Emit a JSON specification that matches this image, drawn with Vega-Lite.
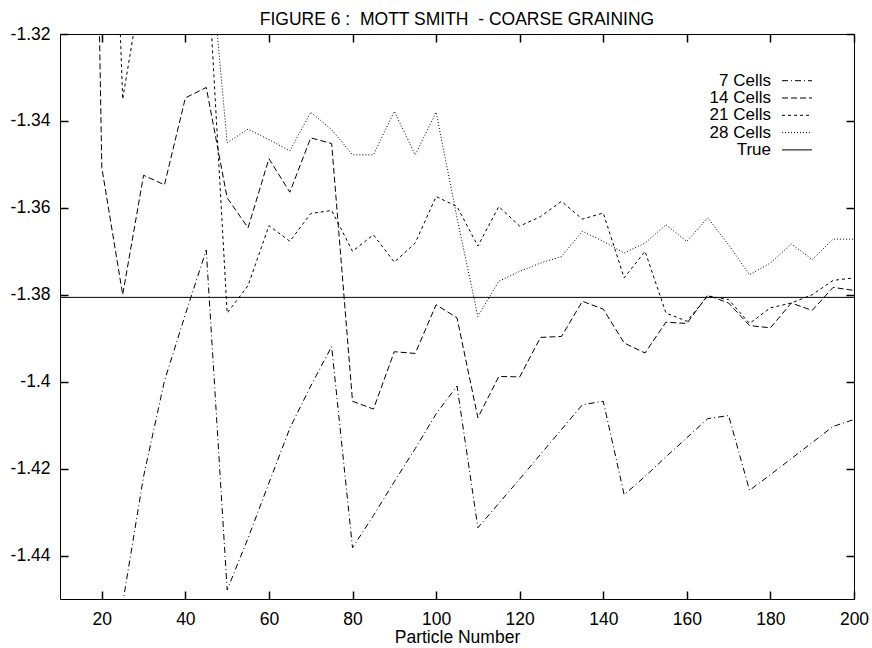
{
  "$schema": "https://vega.github.io/schema/vega-lite/v6.json",
  "width": 794,
  "height": 565,
  "autosize": {"type": "none"},
  "padding": {"left": 60, "top": 34, "right": 18, "bottom": 49},
  "background": "white",
  "config": {
    "font": "Liberation Sans",
    "view": {"stroke": "black", "strokeWidth": 1},
    "axis": {"grid": false, "labelFont": "Liberation Sans", "titleFont": "Liberation Sans", "labelFontSize": 17.5, "titleFontSize": 17.5, "titleFontWeight": "normal", "labelColor": "black", "titleColor": "black"}
  },
  "title": {"text": "FIGURE 6 :\u00a0 MOTT SMITH\u00a0 - COARSE GRAINING", "fontSize": 17.5, "fontWeight": "normal", "font": "Liberation Sans", "color": "black", "anchor": "middle", "frame": "group", "offset": -3.5},
  "data": {"values": [
    {"s":"7 Cells","x":20,"y":-1.52},{"s":"7 Cells","x":25,"y":-1.451},{"s":"7 Cells","x":30,"y":-1.4218},{"s":"7 Cells","x":35,"y":-1.3998},{"s":"7 Cells","x":40,"y":-1.3845},{"s":"7 Cells","x":45,"y":-1.3697},{"s":"7 Cells","x":50,"y":-1.4479},{"s":"7 Cells","x":55,"y":-1.436},{"s":"7 Cells","x":60,"y":-1.4233},{"s":"7 Cells","x":65,"y":-1.4107},{"s":"7 Cells","x":70,"y":-1.401},{"s":"7 Cells","x":75,"y":-1.3919},{"s":"7 Cells","x":80,"y":-1.4382},{"s":"7 Cells","x":85,"y":-1.4308},{"s":"7 Cells","x":90,"y":-1.423},{"s":"7 Cells","x":95,"y":-1.4154},{"s":"7 Cells","x":100,"y":-1.4074},{"s":"7 Cells","x":105,"y":-1.401},{"s":"7 Cells","x":110,"y":-1.4336},{"s":"7 Cells","x":115,"y":-1.428},{"s":"7 Cells","x":120,"y":-1.4224},{"s":"7 Cells","x":125,"y":-1.4167},{"s":"7 Cells","x":130,"y":-1.411},{"s":"7 Cells","x":135,"y":-1.4053},{"s":"7 Cells","x":140,"y":-1.4045},{"s":"7 Cells","x":145,"y":-1.426},{"s":"7 Cells","x":150,"y":-1.4218},{"s":"7 Cells","x":155,"y":-1.4173},{"s":"7 Cells","x":160,"y":-1.4129},{"s":"7 Cells","x":165,"y":-1.4085},{"s":"7 Cells","x":170,"y":-1.4078},{"s":"7 Cells","x":175,"y":-1.425},{"s":"7 Cells","x":180,"y":-1.4214},{"s":"7 Cells","x":185,"y":-1.4177},{"s":"7 Cells","x":190,"y":-1.414},{"s":"7 Cells","x":195,"y":-1.4103},{"s":"7 Cells","x":200,"y":-1.4087},
    {"s":"14 Cells","x":15,"y":-1.07},{"s":"14 Cells","x":20,"y":-1.3507},{"s":"14 Cells","x":25,"y":-1.38},{"s":"14 Cells","x":30,"y":-1.3525},{"s":"14 Cells","x":35,"y":-1.3547},{"s":"14 Cells","x":40,"y":-1.3347},{"s":"14 Cells","x":45,"y":-1.3323},{"s":"14 Cells","x":50,"y":-1.3577},{"s":"14 Cells","x":55,"y":-1.3646},{"s":"14 Cells","x":60,"y":-1.3487},{"s":"14 Cells","x":65,"y":-1.3564},{"s":"14 Cells","x":70,"y":-1.3439},{"s":"14 Cells","x":75,"y":-1.3452},{"s":"14 Cells","x":80,"y":-1.4045},{"s":"14 Cells","x":85,"y":-1.4063},{"s":"14 Cells","x":90,"y":-1.3931},{"s":"14 Cells","x":95,"y":-1.3935},{"s":"14 Cells","x":100,"y":-1.3823},{"s":"14 Cells","x":105,"y":-1.3853},{"s":"14 Cells","x":110,"y":-1.4083},{"s":"14 Cells","x":115,"y":-1.3988},{"s":"14 Cells","x":120,"y":-1.3989},{"s":"14 Cells","x":125,"y":-1.3898},{"s":"14 Cells","x":130,"y":-1.3896},{"s":"14 Cells","x":135,"y":-1.3815},{"s":"14 Cells","x":140,"y":-1.3833},{"s":"14 Cells","x":145,"y":-1.3911},{"s":"14 Cells","x":150,"y":-1.3934},{"s":"14 Cells","x":155,"y":-1.3863},{"s":"14 Cells","x":160,"y":-1.3866},{"s":"14 Cells","x":165,"y":-1.3801},{"s":"14 Cells","x":170,"y":-1.3819},{"s":"14 Cells","x":175,"y":-1.3871},{"s":"14 Cells","x":180,"y":-1.3876},{"s":"14 Cells","x":185,"y":-1.3819},{"s":"14 Cells","x":190,"y":-1.3836},{"s":"14 Cells","x":195,"y":-1.3783},{"s":"14 Cells","x":200,"y":-1.379},
    {"s":"21 Cells","x":20,"y":-1.2},{"s":"21 Cells","x":25,"y":-1.335},{"s":"21 Cells","x":30,"y":-1.306},{"s":"21 Cells","x":35,"y":-1.29},{"s":"21 Cells","x":40,"y":-1.285},{"s":"21 Cells","x":45,"y":-1.298},{"s":"21 Cells","x":50,"y":-1.3842},{"s":"21 Cells","x":55,"y":-1.3779},{"s":"21 Cells","x":60,"y":-1.3641},{"s":"21 Cells","x":65,"y":-1.3677},{"s":"21 Cells","x":70,"y":-1.3613},{"s":"21 Cells","x":75,"y":-1.3606},{"s":"21 Cells","x":80,"y":-1.37},{"s":"21 Cells","x":85,"y":-1.3662},{"s":"21 Cells","x":90,"y":-1.3725},{"s":"21 Cells","x":95,"y":-1.3681},{"s":"21 Cells","x":100,"y":-1.3574},{"s":"21 Cells","x":105,"y":-1.3597},{"s":"21 Cells","x":110,"y":-1.3688},{"s":"21 Cells","x":115,"y":-1.3597},{"s":"21 Cells","x":120,"y":-1.3642},{"s":"21 Cells","x":125,"y":-1.362},{"s":"21 Cells","x":130,"y":-1.3585},{"s":"21 Cells","x":135,"y":-1.3626},{"s":"21 Cells","x":140,"y":-1.3612},{"s":"21 Cells","x":145,"y":-1.3761},{"s":"21 Cells","x":150,"y":-1.37},{"s":"21 Cells","x":155,"y":-1.3842},{"s":"21 Cells","x":160,"y":-1.3861},{"s":"21 Cells","x":165,"y":-1.3803},{"s":"21 Cells","x":170,"y":-1.3811},{"s":"21 Cells","x":175,"y":-1.3866},{"s":"21 Cells","x":180,"y":-1.383},{"s":"21 Cells","x":185,"y":-1.3819},{"s":"21 Cells","x":190,"y":-1.38},{"s":"21 Cells","x":195,"y":-1.3767},{"s":"21 Cells","x":200,"y":-1.3761},
    {"s":"28 Cells","x":45,"y":-1.292},{"s":"28 Cells","x":50,"y":-1.345},{"s":"28 Cells","x":55,"y":-1.3419},{"s":"28 Cells","x":60,"y":-1.3443},{"s":"28 Cells","x":65,"y":-1.3469},{"s":"28 Cells","x":70,"y":-1.338},{"s":"28 Cells","x":75,"y":-1.342},{"s":"28 Cells","x":80,"y":-1.3478},{"s":"28 Cells","x":85,"y":-1.3478},{"s":"28 Cells","x":90,"y":-1.3378},{"s":"28 Cells","x":95,"y":-1.3478},{"s":"28 Cells","x":100,"y":-1.338},{"s":"28 Cells","x":105,"y":-1.3623},{"s":"28 Cells","x":110,"y":-1.385},{"s":"28 Cells","x":115,"y":-1.3769},{"s":"28 Cells","x":120,"y":-1.3746},{"s":"28 Cells","x":125,"y":-1.3727},{"s":"28 Cells","x":130,"y":-1.3712},{"s":"28 Cells","x":135,"y":-1.3654},{"s":"28 Cells","x":140,"y":-1.3677},{"s":"28 Cells","x":145,"y":-1.3704},{"s":"28 Cells","x":150,"y":-1.3681},{"s":"28 Cells","x":155,"y":-1.3639},{"s":"28 Cells","x":160,"y":-1.3677},{"s":"28 Cells","x":165,"y":-1.3623},{"s":"28 Cells","x":170,"y":-1.3685},{"s":"28 Cells","x":175,"y":-1.3754},{"s":"28 Cells","x":180,"y":-1.3727},{"s":"28 Cells","x":185,"y":-1.3683},{"s":"28 Cells","x":190,"y":-1.3719},{"s":"28 Cells","x":195,"y":-1.3672},{"s":"28 Cells","x":200,"y":-1.3672},
    {"s":"True","x":10,"y":-1.3806},{"s":"True","x":200,"y":-1.3806}
  ]},
  "layer": [
    {
      "mark": {"type": "line", "clip": true, "color": "black", "strokeWidth": 1},
      "encoding": {
        "x": {"field": "x", "type": "quantitative", "scale": {"domain": [10, 200], "nice": false, "zero": false},
              "axis": {"orient": "bottom", "title": "Particle Number", "values": [20,40,60,80,100,120,140,160,180,200], "domain": false, "ticks": true, "tickColor": "black", "tickSize": 8, "tickWidth": 1.5, "offset": -8, "labelPadding": 11, "titlePadding": 1, "labelFlush": false}},
        "y": {"field": "y", "type": "quantitative", "scale": {"domain": [-1.45, -1.32], "nice": false, "zero": false},
              "axis": {"orient": "left", "title": null, "values": [-1.44,-1.42,-1.4,-1.38,-1.36,-1.34,-1.32], "domain": false, "ticks": true, "tickColor": "black", "tickSize": 8, "tickWidth": 1.5, "offset": -8, "labelPadding": 10, "labelExpr": "'' + datum.value", "labelFlush": false}},
        "strokeDash": {"field": "s", "type": "nominal",
          "scale": {"domain": ["7 Cells","14 Cells","21 Cells","28 Cells","True"], "range": [[6,3,1,3],[6,3],[3,3],[1,2],[1,0]]},
          "legend": {"title": null, "orient": "none", "legendX": 728.5, "legendY": 38.2, "padding": 0, "symbolType": "M-3,0H3", "symbolSize": 100, "symbolStrokeWidth": 1, "symbolStrokeColor": "black", "labelFontSize": 17, "labelFont": "Liberation Sans", "labelColor": "black", "labelAlign": "right", "labelOffset": -34.5, "labelLimit": 300, "rowPadding": -0.7}},
        "detail": {"field": "s"},
        "order": {"field": "x", "type": "quantitative"}
      }
    },
    {
      "mark": {"type": "line", "opacity": 0, "clip": true},
      "encoding": {
        "x": {"field": "x", "type": "quantitative", "axis": {"orient": "top", "title": null, "labels": false, "domain": false, "values": [20,40,60,80,100,120,140,160,180,200], "ticks": true, "tickColor": "black", "tickSize": 8, "tickWidth": 1.5, "offset": -8}},
        "y": {"field": "y", "type": "quantitative", "axis": {"orient": "right", "title": null, "labels": false, "domain": false, "values": [-1.44,-1.42,-1.4,-1.38,-1.36,-1.34,-1.32], "ticks": true, "tickColor": "black", "tickSize": 8, "tickWidth": 1.5, "offset": -8}},
        "detail": {"field": "s"}
      }
    }
  ],
  "resolve": {"axis": {"x": "independent", "y": "independent"}}
}
